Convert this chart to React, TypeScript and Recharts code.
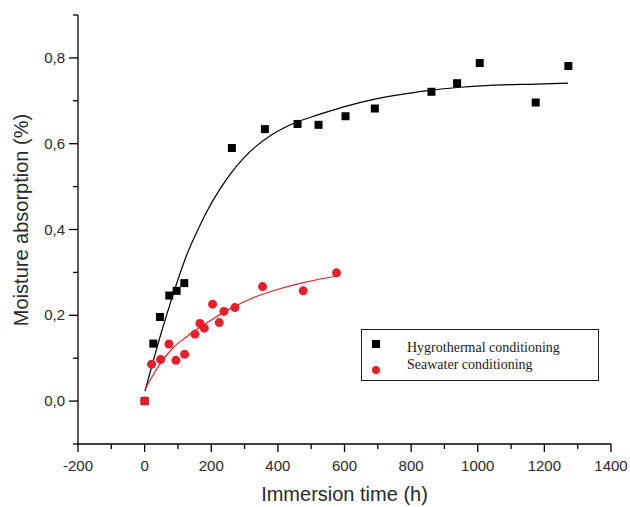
import React from 'react';
import { ComposedChart, XAxis, YAxis, Scatter, Line, Label } from 'recharts';

const xTicks = [-200, -100, 0, 100, 200, 300, 400, 500, 600, 700, 800, 900, 1000, 1100, 1200, 1300, 1400];
const yTicks = [-0.1, 0, 0.1, 0.2, 0.3, 0.4, 0.5, 0.6, 0.7, 0.8, 0.9];

const hygroTime = [0, 26, 46, 74, 96, 119, 262, 361, 459, 522, 603, 691, 861, 938, 1006, 1174, 1272];
const hygroValue = [0, 0.134, 0.196, 0.246, 0.257, 0.275, 0.59, 0.634, 0.646, 0.644, 0.664, 0.682, 0.721, 0.741, 0.788, 0.696, 0.781];

const seaTime = [0, 21, 48, 73, 94, 120, 151, 166, 179, 204, 224, 238, 271, 354, 476, 576];
const seaValue = [0, 0.086, 0.097, 0.133, 0.095, 0.109, 0.156, 0.181, 0.17, 0.226, 0.183, 0.209, 0.218, 0.267, 0.257, 0.299];

const hygroFitTime = [1, 26, 56, 86, 111, 126, 156, 186, 226, 256, 296, 336, 376, 416, 456, 496, 556, 603, 691, 780, 861, 938, 1036, 1174, 1271];
const hygroFitValue = [0.023, 0.094, 0.175, 0.25, 0.308, 0.34, 0.393, 0.441, 0.494, 0.528, 0.565, 0.595, 0.618, 0.636, 0.65, 0.661, 0.676, 0.687, 0.704, 0.716, 0.725, 0.731, 0.736, 0.739, 0.741];

const seaFitTime = [1, 21, 46, 86, 126, 166, 206, 256, 326, 406, 486, 576];
const seaFitValue = [0.027, 0.055, 0.086, 0.125, 0.15, 0.172, 0.192, 0.215, 0.241, 0.262, 0.278, 0.291];

const seriesNames = ['Hygrothermal conditioning', 'Seawater conditioning'];

const zip = (t: number[], v: number[]) => t.map((tt, i) => ({ t: tt, y: v[i] }));
const hygroData = zip(hygroTime, hygroValue);
const seaData = zip(seaTime, seaValue);
const hygroFit = zip(hygroFitTime, hygroFitValue);
const seaFit = zip(seaFitTime, seaFitValue);

const BLACK = '#000000';
const RED = '#e5202a';
const TEXT = '#2a2a2a';
const SANS = '"Liberation Sans", Arial, sans-serif';

const XTick = (p: any) => {
  const v = p.payload.value;
  const major = Math.round(v) % 200 === 0;
  return (
    <g>
      <line x1={p.x} x2={p.x} y1={p.y} y2={p.y + (major ? 8 : 5)} stroke={BLACK} strokeWidth={1.3} />
      {major && (
        <text x={p.x} y={p.y + 27} textAnchor="middle" fontSize={15} fontFamily={SANS} fill={TEXT}>
          {v}
        </text>
      )}
    </g>
  );
};

const YTick = (p: any) => {
  const v = p.payload.value;
  const k = Math.round(v * 10);
  const major = k % 2 === 0;
  return (
    <g>
      <line x1={p.x} x2={p.x - (major ? 9 : 5)} y1={p.y} y2={p.y} stroke={BLACK} strokeWidth={1.3} />
      {major && (
        <text x={p.x - 13} y={p.y + 5} textAnchor="end" fontSize={15} fontFamily={SANS} fill={TEXT}>
          {v.toFixed(1).replace('.', ',')}
        </text>
      )}
    </g>
  );
};

const Square = (p: any) => <rect x={p.cx - 4} y={p.cy - 4} width={8} height={8} fill={BLACK} />;
const Dot = (p: any) => <circle cx={p.cx} cy={p.cy} r={4.5} fill={RED} />;

const XTitle = (p: any) => {
  const vb = p.viewBox || { x: 78, y: 444, width: 533 };
  return (
    <text x={vb.x + vb.width / 2} y={vb.y + 57} textAnchor="middle" fontSize={20} fontFamily={SANS} fill={TEXT}>
      Immersion time (h)
    </text>
  );
};

const YTitle = () => (
  <text x={28} y={220} transform="rotate(-90, 28, 220)" textAnchor="middle" fontSize={20} fontFamily={SANS} fill={TEXT}>
    Moisture absorption (%)
  </text>
);

export default function App() {
  return (
    <div style={{ position: 'absolute', left: 0, top: 0, width: 630, height: 507, background: '#fff' }}>
      <ComposedChart width={630} height={507} margin={{ top: 15, right: 19, bottom: 0, left: 0 }}>
        <XAxis
          type="number"
          dataKey="t"
          domain={[-200, 1400]}
          ticks={xTicks}
          interval={0}
          height={63}
          tickSize={0}
          tickMargin={0}
          tickLine={false}
          tick={<XTick />}
          axisLine={{ stroke: BLACK, strokeWidth: 1.3 }}
          allowDataOverflow
        >
          <Label content={<XTitle />} />
        </XAxis>
        <YAxis
          type="number"
          dataKey="y"
          domain={[-0.1, 0.9]}
          ticks={yTicks}
          interval={0}
          width={78}
          tickSize={0}
          tickMargin={0}
          tickLine={false}
          tick={<YTick />}
          axisLine={{ stroke: BLACK, strokeWidth: 1.3 }}
          allowDataOverflow
        >
          <Label content={<YTitle />} />
        </YAxis>
        <Line data={hygroFit} dataKey="y" type="monotone" stroke={BLACK} strokeWidth={1.2} dot={false} isAnimationActive={false} />
        <Line data={seaFit} dataKey="y" type="monotone" stroke={RED} strokeWidth={1.2} dot={false} isAnimationActive={false} />
        <Scatter name={seriesNames[0]} data={hygroData} dataKey="y" shape={<Square />} isAnimationActive={false} />
        <Scatter name={seriesNames[1]} data={seaData} dataKey="y" shape={<Dot />} isAnimationActive={false} />
      </ComposedChart>
      <div
        style={{
          position: 'absolute',
          left: 361,
          top: 329,
          width: 236,
          height: 50,
          border: '1.5px solid #222',
          fontFamily: '"Liberation Serif", "Times New Roman", serif',
          fontSize: 14,
          color: '#222',
          boxSizing: 'content-box',
        }}
      >
        <div style={{ position: 'absolute', left: 10, top: 10, width: 8, height: 8, background: BLACK }} />
        <div style={{ position: 'absolute', left: 10, top: 36, width: 8, height: 8, borderRadius: 4, background: RED }} />
        <div style={{ position: 'absolute', left: 45, top: 9, lineHeight: '17px', whiteSpace: 'nowrap' }}>
          {seriesNames[0]}
          <br />
          {seriesNames[1]}
        </div>
      </div>
    </div>
  );
}
